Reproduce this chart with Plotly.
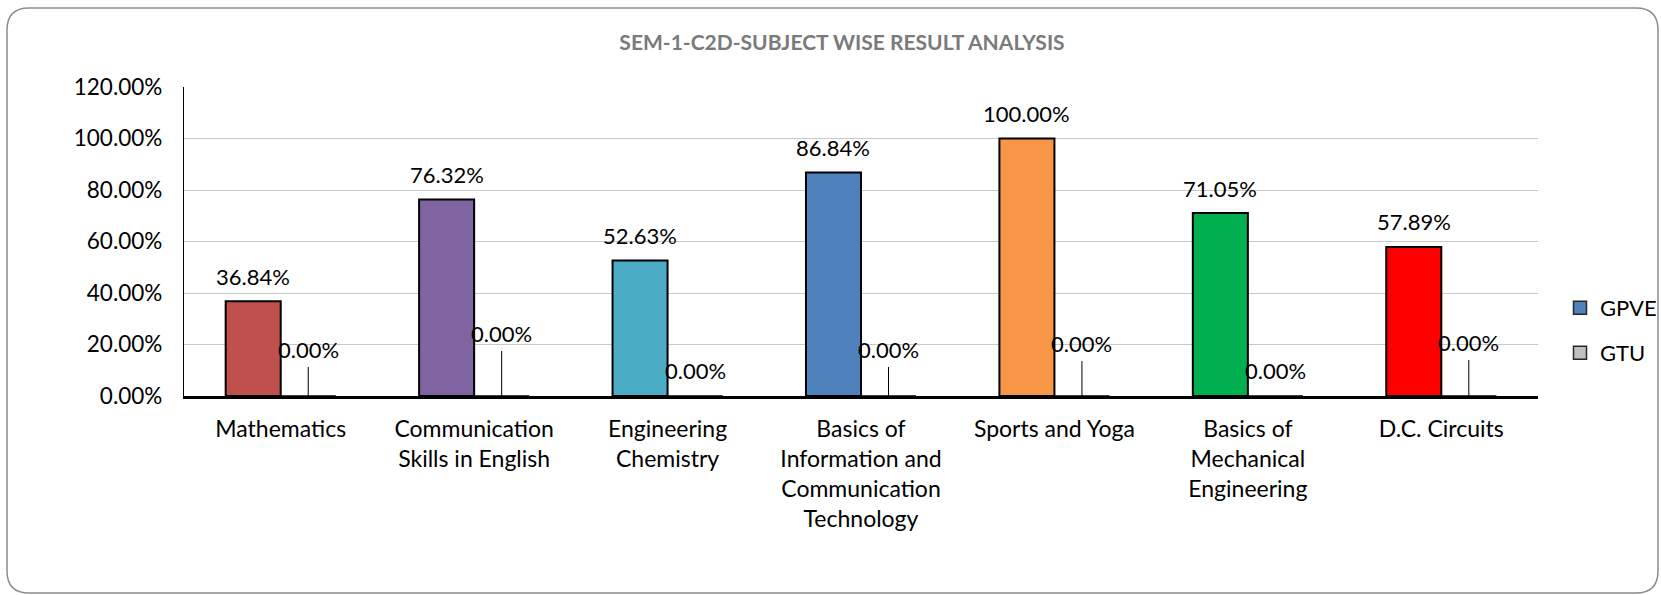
import plotly.graph_objects as go

# ---------------- data ----------------
categories = [
    "Mathematics",
    "Communication Skills in English",
    "Engineering Chemistry",
    "Basics of Information and Communication Technology",
    "Sports and Yoga",
    "Basics of Mechanical Engineering",
    "D.C. Circuits",
]
tick_labels = [
    "Mathematics",
    "Communication<br>Skills in English",
    "Engineering<br>Chemistry",
    "Basics of<br>Information and<br>Communication<br>Technology",
    "Sports and Yoga",
    "Basics of<br>Mechanical<br>Engineering",
    "D.C. Circuits",
]
gpve = [36.84, 76.32, 52.63, 86.84, 100.00, 71.05, 57.89]
gtu = [0.00, 0.00, 0.00, 0.00, 0.00, 0.00, 0.00]
y_ticks = [0, 20, 40, 60, 80, 100, 120]
y_tick_labels = ["0.00%", "20.00%", "40.00%", "60.00%", "80.00%", "100.00%", "120.00%"]

# ---------------- styling ----------------
gpve_colors = ["#C0504D", "#8064A2", "#4BACC6", "#4F81BD", "#F79646", "#00B050", "#FF0000"]
gpve_legend_color = "#4F81BD"
gtu_color = "#BFBFBF"
gtu_label_lift = [47, 63, 26, 47, 53, 26, 54]      # px above baseline (label positions)
gtu_leader = [True, True, False, True, True, False, True]

W, H = 1661, 595
L, R, T, B = 184, 1661 - 1538, 87, 595 - 396
PW, PH = W - L - R, H - T - B
FONT = "Lato"
FS = 22
bargap = 0.431
half_off = (1 - bargap) / 4


def px2x(px):
    return (px - L) / PW


def px2y(py):
    return (H - B - py) / PH


fig = go.Figure()
fig.add_trace(go.Bar(
    x=categories, y=gpve, name="GPVE", showlegend=False,
    marker=dict(color=gpve_colors, line=dict(color="#000000", width=2)),
))
fig.add_trace(go.Bar(
    x=categories, y=gtu, name="GTU", showlegend=False,
    marker=dict(color=gtu_color, line=dict(color="#000000", width=1)),
))
# legend entries
fig.add_trace(go.Scatter(
    x=[None], y=[None], mode="markers", name="GPVE", legend="legend",
    marker=dict(symbol="square", size=13, color=gpve_legend_color,
                line=dict(color="#262626", width=1.5)),
))
fig.add_trace(go.Scatter(
    x=[None], y=[None], mode="markers", name="GTU", legend="legend2",
    marker=dict(symbol="square", size=13, color=gtu_color,
                line=dict(color="#262626", width=1.5)),
))

annotations = []
for i, v in enumerate(gpve):
    annotations.append(dict(
        x=i - half_off, y=v, xref="x", yref="y", text=f"{v:.2f}%",
        showarrow=False, yanchor="middle", yshift=25,
        font=dict(family=FONT, size=FS, color="#000000"),
    ))
for i, v in enumerate(gtu):
    if gtu_leader[i]:
        annotations.append(dict(
            x=i + half_off, y=v, xref="x", yref="y", text=f"{v:.2f}%",
            showarrow=True, arrowhead=0, arrowwidth=1, arrowcolor="#000000",
            ax=0, ay=-gtu_label_lift[i], startstandoff=3,
            font=dict(family=FONT, size=FS, color="#000000"),
        ))
    else:
        annotations.append(dict(
            x=i + half_off, y=v, xref="x", yref="y", text=f"{v:.2f}%",
            showarrow=False, yanchor="middle", yshift=gtu_label_lift[i],
            font=dict(family=FONT, size=FS, color="#000000"),
        ))

# rounded chart frame
fx0, fy0, fx1, fy1, rr = 7, 8, 1658, 593, 22
pts = [
    ("M", (fx0 + rr, fy0)), ("L", (fx1 - rr, fy0)), ("Q", (fx1, fy0), (fx1, fy0 + rr)),
    ("L", (fx1, fy1 - rr)), ("Q", (fx1, fy1), (fx1 - rr, fy1)),
    ("L", (fx0 + rr, fy1)), ("Q", (fx0, fy1), (fx0, fy1 - rr)),
    ("L", (fx0, fy0 + rr)), ("Q", (fx0, fy0), (fx0 + rr, fy0)),
]
path = ""
for seg in pts:
    cmd = seg[0]
    coords = " ".join(f"{px2x(p[0]):.5f},{px2y(p[1]):.5f}" for p in seg[1:])
    path += f"{cmd} {coords} "
path += "Z"

fig.update_layout(
    width=W, height=H,
    margin=dict(l=L, r=R, t=T, b=B, autoexpand=False),
    paper_bgcolor="#FFFFFF", plot_bgcolor="#FFFFFF",
    font=dict(family=FONT, size=FS, color="#000000"),
    barmode="group", bargap=bargap, bargroupgap=0,
    title=dict(
        text="<b>SEM-1-C2D-SUBJECT WISE RESULT ANALYSIS</b>",
        x=842 / W, xref="container", xanchor="center",
        y=1 - 43 / H, yref="container", yanchor="middle",
        font=dict(family=FONT, size=21, color="#7A7A7A"),
    ),
    xaxis=dict(
        type="category", tickmode="array", tickvals=categories, ticktext=tick_labels,
        showline=True, linecolor="#000000", linewidth=2.5, ticks="",
        showgrid=False, ticklabelstandoff=11, fixedrange=True,
        tickfont=dict(family=FONT, size=23, color="#000000"),
    ),
    yaxis=dict(
        range=[0, 120], tickmode="array", tickvals=y_ticks, ticktext=y_tick_labels,
        showgrid=True, gridcolor="#C8C8C8", gridwidth=1.3,
        showline=True, linecolor="#000000", linewidth=1.3,
        zeroline=False, ticks="", ticklabelstandoff=16, fixedrange=True,
        tickfont=dict(family=FONT, size=22.5, color="#000000"),
    ),
    legend=dict(x=px2x(1560), y=px2y(308), xanchor="left", yanchor="middle",
                bgcolor="rgba(0,0,0,0)", font=dict(family=FONT, size=FS, color="#000000")),
    legend2=dict(x=px2x(1560), y=px2y(353), xanchor="left", yanchor="middle",
                 bgcolor="rgba(0,0,0,0)", font=dict(family=FONT, size=FS, color="#000000")),
    annotations=annotations,
    shapes=[dict(type="path", path=path, xref="paper", yref="paper",
                 line=dict(color="#8C8C8C", width=1.5), layer="above")],
)

fig.write_html(
    "out.html",
    config={"displayModeBar": False},
    post_script="document.body.style.margin='0';document.body.style.overflow='hidden';",
)
